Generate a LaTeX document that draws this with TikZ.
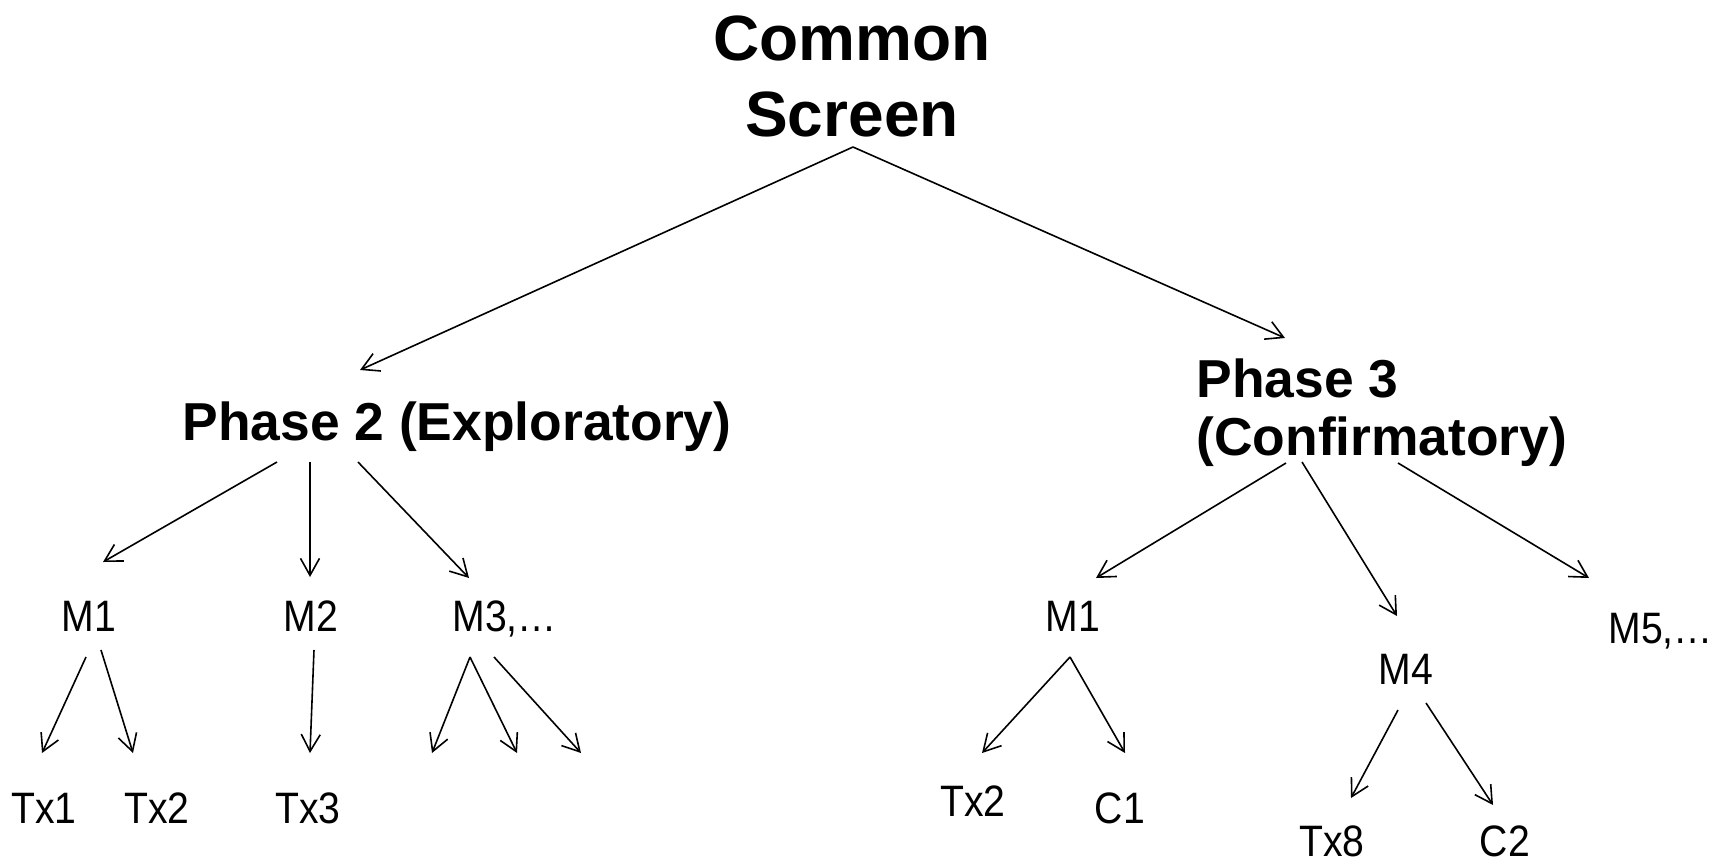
\documentclass[tikz,border=0pt]{standalone}
\usepackage{fontspec}
\setmainfont{Liberation Sans}
\newfontfamily\nfont[FakeStretch=0.89]{Liberation Sans}
\usetikzlibrary{arrows.meta}
\begin{document}
\begin{tikzpicture}[x=0.5pt,y=-0.5pt,
  big/.style={inner sep=0pt,anchor=base,font=\bfseries\fontsize{32}{38}\selectfont},
  phase/.style={inner sep=0pt,anchor=base west,font=\bfseries\fontsize{26.7}{29}\selectfont},
  leaf/.style={inner sep=0pt,anchor=base,font=\nfont\fontsize{22}{26}\selectfont},
  arr/.style={draw,line width=0.8pt,-{Straight Barb[length=8.5pt,width=9.5pt]}}]
\useasboundingbox (0,0) rectangle (1718,863);
% nodes
\node[big] (cs) at (852,60) {\begin{tabular}[t]{@{}c@{}}Common\\Screen\end{tabular}};
\node[phase] (p2) at (182,440) {Phase 2 (Exploratory)};
\node[phase] (p3) at (1196,397) {\begin{tabular}[t]{@{}l@{}}Phase 3\\(Confirmatory)\end{tabular}};
\node[leaf] (m1) at (89,631) {M1};
\node[leaf] (m2) at (311,631) {M2};
\node[leaf,anchor=base west] (m3) at (452,631) {M3,…};
\node[leaf] (tx1) at (44,823) {Tx1};
\node[leaf] (tx2) at (157,823) {Tx2};
\node[leaf] (tx3) at (308,823) {Tx3};
\coordinate (e1) at (432,753);
\coordinate (e2) at (517,753);
\coordinate (e3) at (581,753);
\node[leaf] (rm1) at (1073,631) {M1};
\node[leaf] (m4) at (1406,684) {M4};
\node[leaf,anchor=base west] (m5) at (1608,643) {M5,…};
\node[leaf] (rtx2) at (973,816) {Tx2};
\node[leaf] (c1) at (1120,823) {C1};
\node[leaf] (tx8) at (1332,856) {Tx8};
\node[leaf] (c2) at (1505,856) {C2};
% connectors
\draw[arr] ([shift={(1,87)}]cs.base) -- ([shift={(178,-70)}]p2.base west);
\draw[arr] ([shift={(1,87)}]cs.base) -- ([shift={(89,-59)}]p3.base west);
\draw[arr] ([shift={(95,22)}]p2.base west) -- ([shift={(14,-69)}]m1.base);
\draw[arr] ([shift={(128,22)}]p2.base west) -- ([shift={(-1,-54)}]m2.base);
\draw[arr] ([shift={(176,22)}]p2.base west) -- ([shift={(17,-53)}]m3.base west);
\draw[arr] ([shift={(-3,26)}]m1.base) -- ([shift={(-2,-70)}]tx1.base);
\draw[arr] ([shift={(12,19)}]m1.base) -- ([shift={(-24,-70)}]tx2.base);
\draw[arr] ([shift={(3,19)}]m2.base) -- ([shift={(2,-70)}]tx3.base);
\draw[arr] ([shift={(18,26)}]m3.base west) -- (e1);
\draw[arr] ([shift={(18,26)}]m3.base west) -- (e2);
\draw[arr] ([shift={(42,26)}]m3.base west) -- (e3);
\draw[arr] ([shift={(90,66)}]p3.base west) -- ([shift={(23,-53)}]rm1.base);
\draw[arr] ([shift={(106,65)}]p3.base west) -- ([shift={(-9,-68)}]m4.base);
\draw[arr] ([shift={(202,66)}]p3.base west) -- ([shift={(-19,-65)}]m5.base west);
\draw[arr] ([shift={(-3,26)}]rm1.base) -- ([shift={(9,-63)}]rtx2.base);
\draw[arr] ([shift={(-3,26)}]rm1.base) -- ([shift={(5,-70)}]c1.base);
\draw[arr] ([shift={(-8,26)}]m4.base) -- ([shift={(19,-58)}]tx8.base);
\draw[arr] ([shift={(20,19)}]m4.base) -- ([shift={(-12,-51)}]c2.base);
\end{tikzpicture}
\end{document}
